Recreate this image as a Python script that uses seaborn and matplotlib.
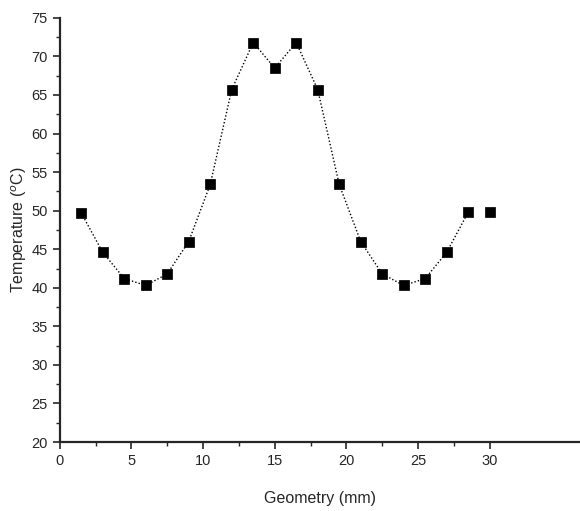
import numpy as np
import pandas as pd
import matplotlib
matplotlib.use("Agg")
import matplotlib.pyplot as plt
from matplotlib.ticker import MultipleLocator, FixedLocator
import seaborn as sns

# === Data ===
geometry = [1.5, 3, 4.5, 6, 7.5, 9, 10.5, 12, 13.5, 15,
            16.5, 18, 19.5, 21, 22.5, 24, 25.5, 27, 28.5, 30]
temperature = [49.7, 44.6, 41.2, 40.3, 41.8, 46.0, 53.4, 65.7, 71.8, 68.5,
               71.8, 65.7, 53.4, 46.0, 41.8, 40.3, 41.2, 44.6, 49.8, 49.8]
x_ticks = [0, 5, 10, 15, 20, 25, 30]

df = pd.DataFrame({"geometry": geometry, "temperature": temperature})

sns.set_style("ticks")
plt.rcParams["font.family"] = ["Liberation Sans", "DejaVu Sans"]

fig = plt.figure(figsize=(5.8, 5.11), dpi=100)
ax = fig.add_axes([0.103, 0.135, 0.897, 0.83])

# dotted connecting line (last point is not joined)
sns.lineplot(data=df.iloc[:-1], x="geometry", y="temperature", ax=ax,
             color="black", linestyle=(0, (1, 1.5)), linewidth=1.0)
sns.scatterplot(data=df, x="geometry", y="temperature", ax=ax,
                marker="s", s=42, color="black", edgecolor="black", zorder=3)

ax.set_xlim(0, 36.3)
ax.set_ylim(20, 75)
ax.set_xticks(x_ticks)
ax.set_yticks(np.arange(20, 76, 5))
ax.xaxis.set_minor_locator(FixedLocator(np.arange(2.5, 30, 5)))
ax.yaxis.set_minor_locator(MultipleLocator(2.5))
ax.tick_params(which="major", direction="out", length=5, width=1.2, labelsize=10.5)
ax.tick_params(which="minor", direction="out", length=3, width=1.0)

for side in ["top", "right"]:
    ax.spines[side].set_visible(False)
for side in ["left", "bottom"]:
    ax.spines[side].set_linewidth(1.6)

ax.set_xlabel("Geometry (mm)", fontsize=11.5, labelpad=17)
ax.set_ylabel("Temperature ($^{o}$C)", fontsize=11.5, labelpad=2)

fig.savefig("out.png", dpi=100)
